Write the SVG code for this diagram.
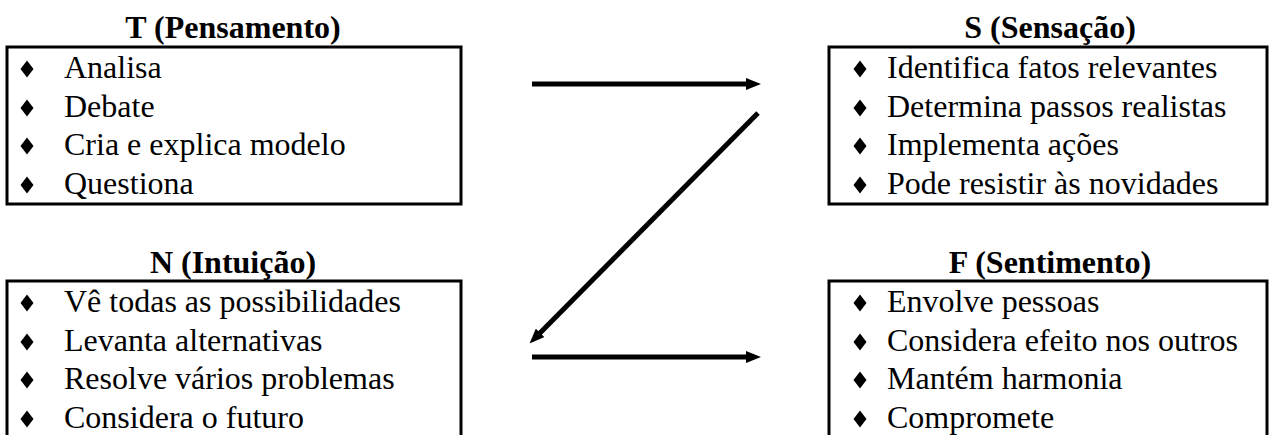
<svg xmlns="http://www.w3.org/2000/svg" width="1270" height="435" viewBox="0 0 1270 435">
<style>
.box{fill:none;stroke:#000;stroke-width:3}
.title{font-family:"Liberation Serif","Times New Roman",serif;font-weight:bold;font-size:32px;text-anchor:middle;fill:#000}
.item{font-family:"Liberation Serif","Times New Roman",serif;font-size:32px;fill:#000}
.conn{stroke:#000;stroke-width:5;fill:none;marker-end:url(#ah)}
</style>
<defs>
<path id="dia" d="M0,-8.5 L6.5,0 L0,8.5 L-6.5,0 Z" fill="#000"/>
<marker id="ah" viewBox="0 0 10 10" refX="2" refY="5" markerWidth="3" markerHeight="2.4" orient="auto" markerUnits="strokeWidth" preserveAspectRatio="none">
<path d="M0,0 L10,5 L0,10 Z" fill="#000"/>
</marker>
</defs>
<g id="node-T">
<text class="title" x="233" y="38">T (Pensamento)</text>
<rect class="box" x="7" y="47" width="454" height="157"/>
<use href="#dia" x="27" y="69"/><text class="item" x="64" y="78">Analisa</text>
<use href="#dia" x="27" y="108"/><text class="item" x="64" y="117">Debate</text>
<use href="#dia" x="27" y="146"/><text class="item" x="64" y="155">Cria e explica modelo</text>
<use href="#dia" x="27" y="185"/><text class="item" x="64" y="194">Questiona</text>
</g>
<g id="node-S">
<text class="title" x="1050" y="38">S (Sensação)</text>
<rect class="box" x="829" y="47" width="438" height="157"/>
<use href="#dia" x="860" y="69"/><text class="item" x="887" y="78">Identifica fatos relevantes</text>
<use href="#dia" x="860" y="108"/><text class="item" x="887" y="117">Determina passos realistas</text>
<use href="#dia" x="860" y="146"/><text class="item" x="887" y="155">Implementa ações</text>
<use href="#dia" x="860" y="185"/><text class="item" x="887" y="194">Pode resistir às novidades</text>
</g>
<g id="node-N">
<text class="title" x="233" y="273">N (Intuição)</text>
<path class="box" d="M7,440 V281 H461 V440"/>
<use href="#dia" x="27" y="303"/><text class="item" x="64" y="312">Vê todas as possibilidades</text>
<use href="#dia" x="27" y="342"/><text class="item" x="64" y="351">Levanta alternativas</text>
<use href="#dia" x="27" y="380"/><text class="item" x="64" y="389">Resolve vários problemas</text>
<use href="#dia" x="27" y="419"/><text class="item" x="64" y="428">Considera o futuro</text>
</g>
<g id="node-F">
<text class="title" x="1050" y="273">F (Sentimento)</text>
<path class="box" d="M829,440 V281 H1267 V440"/>
<use href="#dia" x="860" y="303"/><text class="item" x="887" y="312">Envolve pessoas</text>
<use href="#dia" x="860" y="342"/><text class="item" x="887" y="351">Considera efeito nos outros</text>
<use href="#dia" x="860" y="380"/><text class="item" x="887" y="389">Mantém harmonia</text>
<use href="#dia" x="860" y="419"/><text class="item" x="887" y="428">Compromete</text>
</g>
<g id="connectors">
<line class="conn" x1="532" y1="84" x2="749" y2="84"/>
<line class="conn" x1="758" y1="113" x2="538" y2="335"/>
<line class="conn" x1="532" y1="357" x2="749" y2="357"/>
</g>
</svg>
